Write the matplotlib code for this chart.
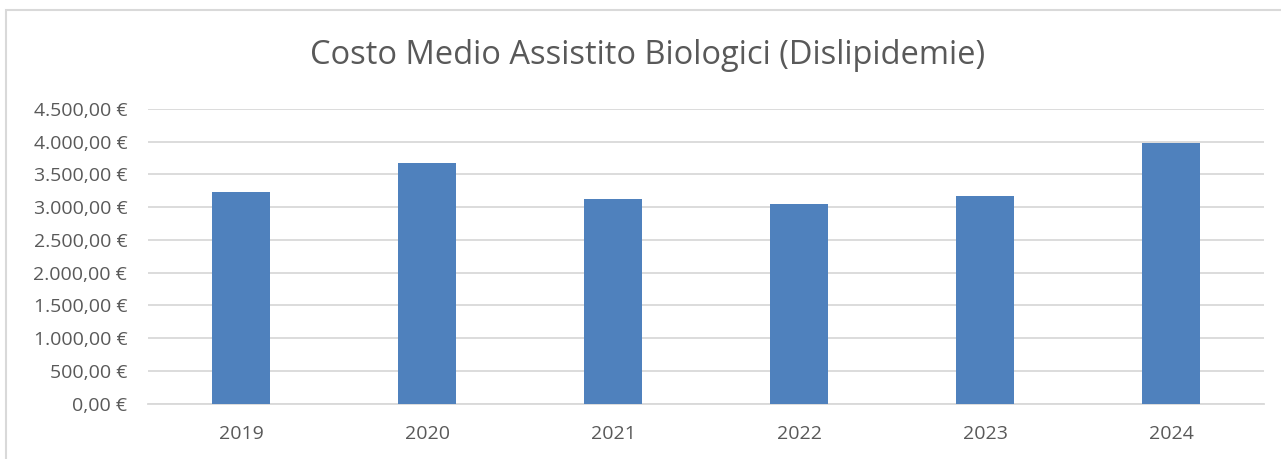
import matplotlib
matplotlib.use('Agg')
import matplotlib.pyplot as plt
from matplotlib.patches import Rectangle
from matplotlib.ticker import FuncFormatter, MultipleLocator

years = ['2019', '2020', '2021', '2022', '2023', '2024']
costs = [3240, 3670, 3130, 3055, 3165, 3975]

plt.rcParams['font.family'] = ['Open Sans', 'DejaVu Sans']

fig = plt.figure(figsize=(12.81, 4.59), dpi=100)
# chart border
fig.patches.append(Rectangle((6 / 1281, -0.1), 1.2, 1 - 10 / 459 + 0.1,
                             transform=fig.transFigure, fill=False,
                             edgecolor='#d9d9d9', linewidth=1.5))

ax = fig.add_axes([148 / 1281, 1 - 403.7 / 459, 1116 / 1281, 294.7 / 459])
ax.bar(range(len(years)), costs, width=0.31, color='#4f81bd', zorder=3)
ax.set_xlim(-0.5, len(years) - 0.5)
ax.set_ylim(0, 4500)
ax.yaxis.set_major_locator(MultipleLocator(500))


def euro(v, pos):
    s = f'{v:,.2f}'.replace(',', 'X').replace('.', ',').replace('X', '.')
    return s + ' €'


ax.yaxis.set_major_formatter(FuncFormatter(euro))
ax.set_xticks(range(len(years)))
ax.set_xticklabels(years)
ax.grid(axis='y', color='#d9d9d9', linewidth=1.3, zorder=0)
for side in ['top', 'right', 'left']:
    ax.spines[side].set_visible(False)
ax.spines['bottom'].set_color('#d9d9d9')
ax.spines['bottom'].set_linewidth(1.3)
ax.tick_params(length=0, labelsize=14, labelcolor='#595959')
ax.tick_params(axis='x', pad=15)
ax.tick_params(axis='y', pad=15)

fig.text(648 / 1281, 1 - 55 / 459, 'Costo Medio Assistito Biologici (Dislipidemie)',
         ha='center', va='center', fontsize=23.5, color='#595959')

fig.savefig('out.png', dpi=100)
